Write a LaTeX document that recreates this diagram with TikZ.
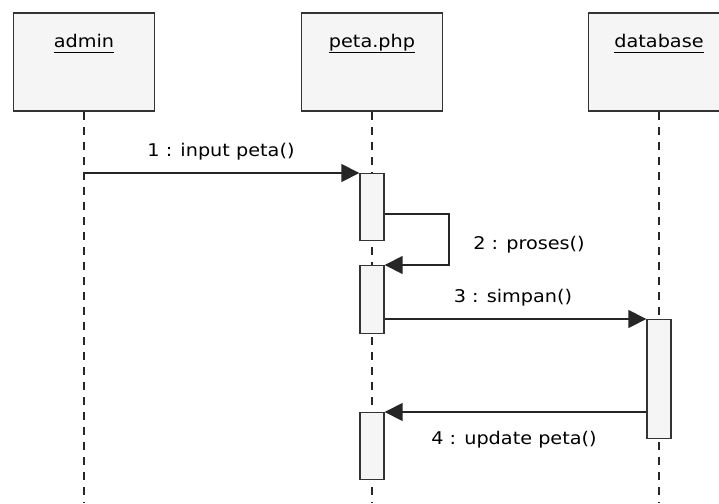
\documentclass[tikz,border=0pt]{standalone}
\usepackage{fontspec}
\setmainfont{DejaVu Sans}[FakeStretch=1.1]
\usetikzlibrary{positioning,arrows.meta}

\tikzset{
	obj/.style={draw=black!80, fill=black!4, line width=1.6pt, minimum width=141pt, minimum height=98pt, inner sep=0pt},
	act/.style={draw=black!80, fill=black!4, line width=1.4pt, minimum width=24pt, inner sep=0pt, anchor=north},
	lifeline/.style={black!85, line width=1.3pt, dash pattern=on 8pt off 7pt},
	msg/.style={black!85, line width=1.6pt, -{Triangle[length=18pt, width=18pt]}},
	txt/.style={font=\fontsize{17.5}{20}\selectfont, text=black, inner sep=0pt}
}

\begin{document}
\begin{tikzpicture}[x=1pt, y=-1pt]
	\useasboundingbox[fill=white] (0,0) rectangle (719,503);
	\coordinate (bottom) at (0,503);
	
	% objects
	\node[obj] (admin) at (84,62) {};
	\node[obj] (peta) at (372,62) {};
	\node[obj] (db) at (659,62) {};
	\node[txt] at ([yshift=-31pt]admin.north) {\underline{\vphantom{p}admin}};
	\node[txt] at ([yshift=-31pt]peta.north) {\underline{\vphantom{p}peta.php}};
	\node[txt] at ([yshift=-31pt]db.north) {\underline{\vphantom{p}database}};
	
	% lifelines
	\draw[lifeline] (admin.south) -- (admin.south |- bottom);
	\draw[lifeline] (peta.south) -- (peta.south |- bottom);
	\draw[lifeline] (db.south) -- (db.south |- bottom);
	
	% activations
	\node[act, minimum height=67pt] (act1) at (372,173) {};
	\node[act, minimum height=68pt] (act2) at (372,265) {};
	\node[act, minimum height=67pt] (act3) at (372,412) {};
	\node[act, minimum height=119pt] (actdb) at (659,319) {};
	
	% messages
	\draw[msg] (admin.south |- act1.north west) -- (act1.north west);
	\node[txt] (m1) at (221,152) {1 : input peta()};
	
	\draw[msg] ([yshift=-41pt]act1.north east) -- ++(64,0) |- (act2.north east);
	\node[txt] (m2) at (529,245) {2 : proses()};
	
	\draw[msg] (act2.north east |- actdb.north west) -- (actdb.north west);
	\node[txt] (m3) at (513,298) {3 : simpan()};
	
	\draw[msg] (actdb.west |- act3.north east) -- (act3.north east);
	\node[txt] (m4) at (514,440) {4 : update peta()};
\end{tikzpicture}
\end{document}
